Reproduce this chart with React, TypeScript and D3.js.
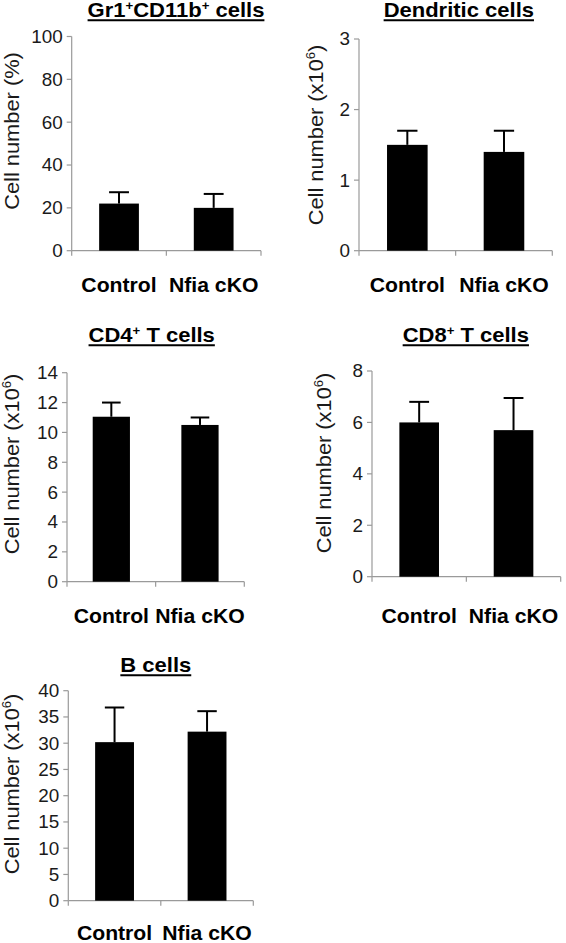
import React, { useLayoutEffect, useRef, useState } from "react";
import * as d3 from "d3";

// ---------- data ----------
const categories = ["Control", "Nfia cKO"];
const panelTitles = ["Gr1^+CD11b^+ cells", "Dendritic cells", "CD4^+ T cells", "CD8^+ T cells", "B cells"];
const yAxisLabels = ["Cell number (%)", "Cell number (x10^6)", "Cell number (x10^6)", "Cell number (x10^6)", "Cell number (x10^6)"];
const yMaxValues = [100, 3, 14, 8, 40];
const yTickSteps = [20, 1, 2, 2, 5];
const controlMeans = [22, 1.5, 11.05, 6.0, 30.2];
const controlErrors = [5.3, 0.2, 0.95, 0.8, 6.6];
const ckoMeans = [20, 1.4, 10.5, 5.7, 32.2];
const ckoErrors = [6.5, 0.3, 0.5, 1.25, 3.9];

// ---------- layout ----------
const layout = [
  { x0: 71.7, x1: 261, yTop: 36.5, yBot: 250.7, tx: 176, ty: 16.7, lx: 18.5, ly: 131, xl: 291.7 },
  { x0: 359, x1: 552.3, yTop: 39, yBot: 250.7, tx: 458.8, ty: 16.7, lx: 323, ly: 135, xl: 291.7 },
  { x0: 67, x1: 244.3, yTop: 372.7, yBot: 581.7, tx: 151.7, ty: 341.7, lx: 18.5, ly: 464, xl: 623.3 },
  { x0: 372, x1: 560.7, yTop: 371, yBot: 576.7, tx: 465.8, ty: 341.7, lx: 331, ly: 463, xl: 623.3 },
  { x0: 68.3, x1: 253.3, yTop: 690.7, yBot: 900.7, tx: 155.8, ty: 671.7, lx: 18.5, ly: 784, xl: 940.2 },
];

const FONT = "'Liberation Sans', Arial, Helvetica, sans-serif";
const AXIS = "#9a9a9a";

function Rich({ s, size }: { s: string; size: number }) {
  const parts = s.split(/(\^.)/);
  const out: any[] = [];
  let shifted = false;
  const sup = size * 0.6;
  const rise = size * 0.36;
  parts.forEach((p, i) => {
    if (!p) return;
    if (p.startsWith("^")) {
      out.push(
        <tspan key={i} fontSize={sup} dy={-rise}>
          {p.slice(1)}
        </tspan>
      );
      shifted = true;
    } else {
      out.push(
        <tspan key={i} dy={shifted ? rise : 0}>
          {p}
        </tspan>
      );
      shifted = false;
    }
  });
  return <>{out}</>;
}

function SText(props: any) {
  const { x, y, rot = 0, sx = 1.05, anchor = "middle", size, weight = "normal", fill = "#111", children, tref } = props;
  return (
    <text
      ref={tref}
      transform={`translate(${x},${y}) rotate(${rot}) scale(${sx},1)`}
      textAnchor={anchor}
      fontSize={size}
      fontWeight={weight}
      fontFamily={FONT}
      fill={fill}
    >
      {children}
    </text>
  );
}

const TITLE_SX = 1.1;

function Title({ x, y, s }: { x: number; y: number; s: string }) {
  const ref = useRef<SVGTextElement>(null);
  const [w, setW] = useState(0);
  useLayoutEffect(() => {
    if (ref.current) setW(ref.current.getBBox().width * TITLE_SX);
  }, [s]);
  return (
    <g>
      <SText x={x} y={y} size={20} sx={TITLE_SX} weight="bold" fill="#000" tref={ref}>
        <Rich s={s} size={20} />
      </SText>
      {w > 0 && <line x1={x - w / 2} x2={x + w / 2} y1={y + 3.6} y2={y + 3.6} stroke="#000" strokeWidth={2} />}
    </g>
  );
}

function Panel({ i }: { i: number }) {
  const L = layout[i];
  const x = d3.scaleBand<string>().domain(categories).range([L.x0, L.x1]).paddingInner(0.58).paddingOuter(0.29);
  const y = d3.scaleLinear().domain([0, yMaxValues[i]]).range([L.yBot, L.yTop]);
  const ticks = d3.range(0, yMaxValues[i] + yTickSteps[i] / 2, yTickSteps[i]);
  const means = [controlMeans[i], ckoMeans[i]];
  const errs = [controlErrors[i], ckoErrors[i]];
  const bw = x.bandwidth();
  const step = x.step();
  const boundaries = [L.x0, L.x0 + step, L.x1];
  return (
    <g>
      <Title x={L.tx} y={L.ty} s={panelTitles[i]} />
      <SText x={L.lx} y={L.ly} rot={-90} size={21} sx={1.04} fill="#1a1a1a">
        <Rich s={yAxisLabels[i]} size={21} />
      </SText>
      {/* y axis */}
      <line x1={L.x0} x2={L.x0} y1={y(0)} y2={y(yMaxValues[i])} stroke={AXIS} strokeWidth={1.2} />
      {ticks.map((t) => (
        <g key={t}>
          <line x1={L.x0 - 5} x2={L.x0} y1={y(t)} y2={y(t)} stroke={AXIS} strokeWidth={1.2} />
          <SText x={L.x0 - 9} y={y(t) + 6.4} anchor="end" size={18} sx={1.05} fill="#1a1a1a">
            {String(t)}
          </SText>
        </g>
      ))}
      {/* x axis */}
      <line x1={L.x0} x2={L.x1} y1={y(0)} y2={y(0)} stroke={AXIS} strokeWidth={1.2} />
      {boundaries.map((bx, k) => (
        <line key={k} x1={bx} x2={bx} y1={y(0)} y2={y(0) + 5} stroke={AXIS} strokeWidth={1.2} />
      ))}
      {/* bars + error bars */}
      {categories.map((c, k) => {
        const cx = (x(c) as number) + bw / 2;
        const top = y(means[k]);
        const et = y(means[k] + errs[k]);
        return (
          <g key={c}>
            <rect x={x(c) as number} y={top} width={bw} height={y(0) - top} fill="#000" />
            <line x1={cx} x2={cx} y1={top} y2={et} stroke="#000" strokeWidth={2} />
            <line x1={cx - bw / 4} x2={cx + bw / 4} y1={et} y2={et} stroke="#000" strokeWidth={2} />
            <SText x={cx} y={L.xl} size={20} weight="bold" sx={1.06} fill="#000">
              {c}
            </SText>
          </g>
        );
      })}
    </g>
  );
}

export default function App() {
  return (
    <svg
      width={566}
      height={943}
      viewBox="0 0 566 943"
      style={{ position: "absolute", left: 0, top: 0, background: "#fff" }}
    >
      <rect width={566} height={943} fill="#fff" />
      {layout.map((_, i) => (
        <Panel key={i} i={i} />
      ))}
    </svg>
  );
}
